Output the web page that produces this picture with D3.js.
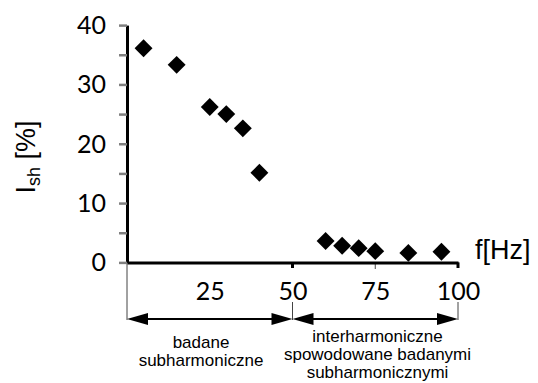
<!DOCTYPE html>
<html>
<head>
<meta charset="utf-8">
<script src="https://cdn.jsdelivr.net/npm/d3@7"></script>
<style>
  html, body { margin: 0; padding: 0; background: #fff; }
  svg { display: block; }
</style>
</head>
<body>
<svg id="chart" width="538" height="383"></svg>
<script>
// ---- data ----
const freq = [5, 15, 25, 30, 35, 40, 60, 65, 70, 75, 85, 95];
const ish  = [36.1, 33.3, 26.2, 25.0, 22.6, 15.1, 3.6, 2.8, 2.4, 1.9, 1.6, 1.8];
const yTicks = [0, 5, 10, 15, 20, 25, 30, 35, 40];
const xTickLabels = [25, 50, 75, 100];
const xAxisTitle = "f[Hz]";
const leftBracketLines = ["badane", "subharmoniczne"];
const rightBracketLines = ["interharmoniczne", "spowodowane badanymi", "subharmonicznymi"];
const brackets = [[0, 50], [50, 100]];

const svg = d3.select("#chart");
svg.append("rect").attr("width", 538).attr("height", 383).attr("fill", "#fff");

const x = d3.scaleLinear().domain([0, 100]).range([127, 458]);
const y = d3.scaleLinear().domain([0, 40]).range([262.4, 25.1]);

const tickFont = "Lato, 'Open Sans', sans-serif";
const arial = "'Liberation Sans', Arial, sans-serif";

// bracket guide lines (thin)
const guide = svg.append("g").attr("stroke", "#444").attr("stroke-width", 1);
guide.append("line").attr("x1", x(0)).attr("x2", x(0)).attr("y1", y(0)).attr("y2", 320);
[50, 100].forEach(v => {
  guide.append("line").attr("x1", x(v)).attr("x2", x(v)).attr("y1", 302).attr("y2", 320);
});
guide.append("line").attr("x1", x(75)).attr("x2", x(75)).attr("y1", y(0)).attr("y2", 269);

// thick short ticks at 50 and 100
[50, 100].forEach(v => {
  svg.append("line").attr("x1", x(v)).attr("x2", x(v)).attr("y1", y(0)).attr("y2", 268)
    .attr("stroke", "#000").attr("stroke-width", 3);
});

// y axis
const yAxis = svg.append("g").attr("transform", `translate(${x(0)},0)`)
  .call(d3.axisLeft(y).tickValues(yTicks).tickSize(8).tickSizeOuter(0).tickPadding(13)
    .tickFormat(d => d % 10 === 0 ? d : ""));
yAxis.select(".domain").attr("stroke", "#000").attr("stroke-width", 3);
yAxis.selectAll(".tick line").attr("stroke", "#808080").attr("stroke-width", 2.5);
yAxis.selectAll(".tick text").attr("font-family", tickFont).attr("font-size", 25)
  .attr("fill", "#000").attr("dy", "0.34em");

// x axis
const xAxis = svg.append("g").attr("transform", `translate(0,${y(0)})`)
  .call(d3.axisBottom(x).tickValues(xTickLabels).tickSize(0).tickSizeOuter(0));
xAxis.select(".domain").attr("stroke", "#000").attr("stroke-width", 3);
xAxis.selectAll(".tick text").attr("font-family", tickFont).attr("font-size", 25)
  .attr("fill", "#000").attr("dy", null).attr("y", 38);

// x axis title
svg.append("text").attr("x", 475).attr("y", 259).attr("font-family", arial)
  .attr("font-size", 27).attr("fill", "#000").text(xAxisTitle);

// y axis title
const yt = svg.append("text").attr("transform", "translate(35,157) rotate(-90)")
  .attr("text-anchor", "middle").attr("font-family", arial).attr("font-size", 27).attr("fill", "#000");
yt.append("tspan").text("I");
yt.append("tspan").attr("font-size", 18).attr("dy", 5).text("sh");
yt.append("tspan").attr("dy", -5).text(" [%]");

// bracket arrows
const arrowY = 319, aLen = 21, aHalf = 6;
brackets.forEach(([a, b]) => {
  const x1 = x(a), x2 = x(b);
  svg.append("line").attr("x1", x1 + aLen - 2).attr("x2", x2 - aLen + 2)
    .attr("y1", arrowY).attr("y2", arrowY).attr("stroke", "#000").attr("stroke-width", 2);
  svg.append("path").attr("d", `M${x1},${arrowY}L${x1 + aLen},${arrowY - aHalf}L${x1 + aLen},${arrowY + aHalf}Z`).attr("fill", "#000");
  svg.append("path").attr("d", `M${x2},${arrowY}L${x2 - aLen},${arrowY - aHalf}L${x2 - aLen},${arrowY + aHalf}Z`).attr("fill", "#000");
});

// bracket texts
svg.append("g").selectAll("text").data(leftBracketLines).join("text")
  .attr("x", 201).attr("y", (d, i) => 348 + i * 18.4)
  .attr("text-anchor", "middle").attr("font-family", arial).attr("font-size", 17).attr("fill", "#000")
  .text(d => d);
svg.append("g").selectAll("text").data(rightBracketLines).join("text")
  .attr("x", 377.5).attr("y", (d, i) => 341.7 + i * 18.3)
  .attr("text-anchor", "middle").attr("font-family", arial).attr("font-size", 17).attr("fill", "#000")
  .text(d => d);

// markers
const sym = d3.symbol().type(d3.symbolSquare).size(160);
svg.append("g").selectAll("path").data(freq.map((f, i) => [f, ish[i]])).join("path")
  .attr("d", sym)
  .attr("transform", d => `translate(${x(d[0])},${y(d[1])}) rotate(45)`)
  .attr("fill", "#000");
</script>
</body>
</html>
